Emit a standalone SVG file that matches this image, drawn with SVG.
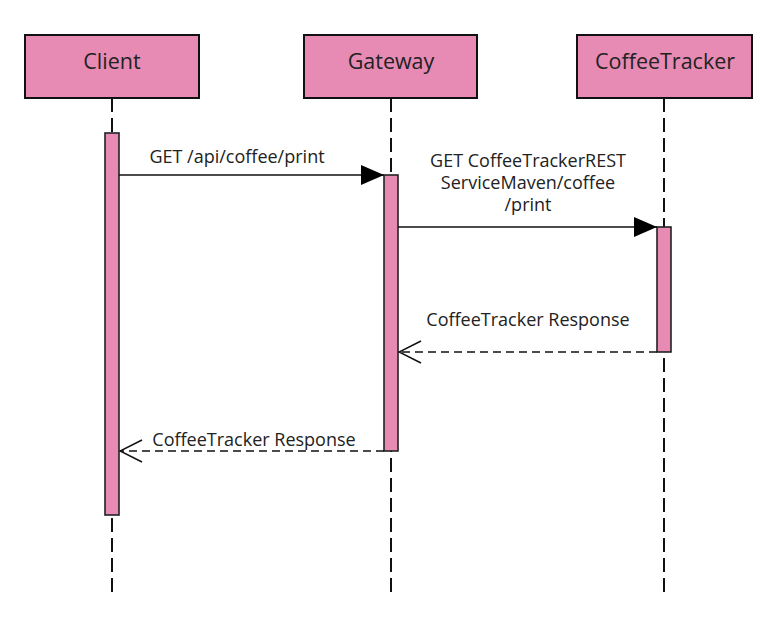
<svg xmlns="http://www.w3.org/2000/svg" width="779" height="642" viewBox="0 0 779 642">
<style>
.box{fill:#E78BB4;stroke:#111;stroke-width:2}
.act{fill:#E78BB4;stroke:#222;stroke-width:1.6}
.life{stroke:#111;stroke-width:2;stroke-dasharray:14 6;fill:none}
.msg{stroke:#111;stroke-width:1.5;fill:none}
.ret{stroke:#111;stroke-width:1.5;fill:none;stroke-dasharray:8 5}
.title{font-family:"Open Sans","Noto Sans",sans-serif;font-size:21.5px;fill:#222;text-anchor:middle}
.lbl{font-family:"Open Sans","Noto Sans",sans-serif;font-size:18px;fill:#222;text-anchor:middle}
</style>
<defs>
<marker id="filled" markerWidth="24" markerHeight="20" refX="23" refY="10" orient="auto" markerUnits="userSpaceOnUse">
<path d="M0,0 L23,10 L0,20 Z" fill="#000"/>
</marker>
<marker id="open" markerWidth="24" markerHeight="24" refX="23" refY="12" orient="auto" markerUnits="userSpaceOnUse">
<path d="M1,1 L23,12 L1,23" fill="none" stroke="#111" stroke-width="1.5"/>
</marker>
</defs>
<rect width="779" height="642" fill="#fff"/>
<g id="lifelines">
<line class="life" x1="112" y1="98" x2="112" y2="592"/>
<line class="life" x1="391" y1="98" x2="391" y2="592"/>
<line class="life" x1="664" y1="98" x2="664" y2="592"/>
</g>
<g id="client">
<rect class="box" x="25" y="35" width="174" height="63"/>
<text class="title" x="112" y="69">Client</text>
<rect class="act" x="105" y="133" width="14" height="382"/>
</g>
<g id="gateway">
<rect class="box" x="304" y="35" width="173" height="63"/>
<text class="title" x="391" y="69">Gateway</text>
<rect class="act" x="384" y="175" width="14" height="276"/>
</g>
<g id="coffeetracker">
<rect class="box" x="577" y="35" width="175" height="63"/>
<text class="title" x="665" y="69">CoffeeTracker</text>
<rect class="act" x="657" y="227" width="14" height="125"/>
</g>
<g id="connectors">
<line class="msg" x1="119" y1="175" x2="384" y2="175" marker-end="url(#filled)"/>
<text class="lbl" x="237" y="163">GET /api/coffee/print</text>
<line class="msg" x1="398" y1="227" x2="657" y2="227" marker-end="url(#filled)"/>
<text class="lbl" x="528" y="167">GET CoffeeTrackerREST</text>
<text class="lbl" x="528" y="189">ServiceMaven/coffee</text>
<text class="lbl" x="528" y="211">/print</text>
<line class="ret" x1="657" y1="352" x2="399" y2="352" marker-end="url(#open)"/>
<text class="lbl" x="528" y="326">CoffeeTracker Response</text>
<line class="ret" x1="384" y1="451" x2="120" y2="451" marker-end="url(#open)"/>
<text class="lbl" x="254" y="446">CoffeeTracker Response</text>
</g>
</svg>
